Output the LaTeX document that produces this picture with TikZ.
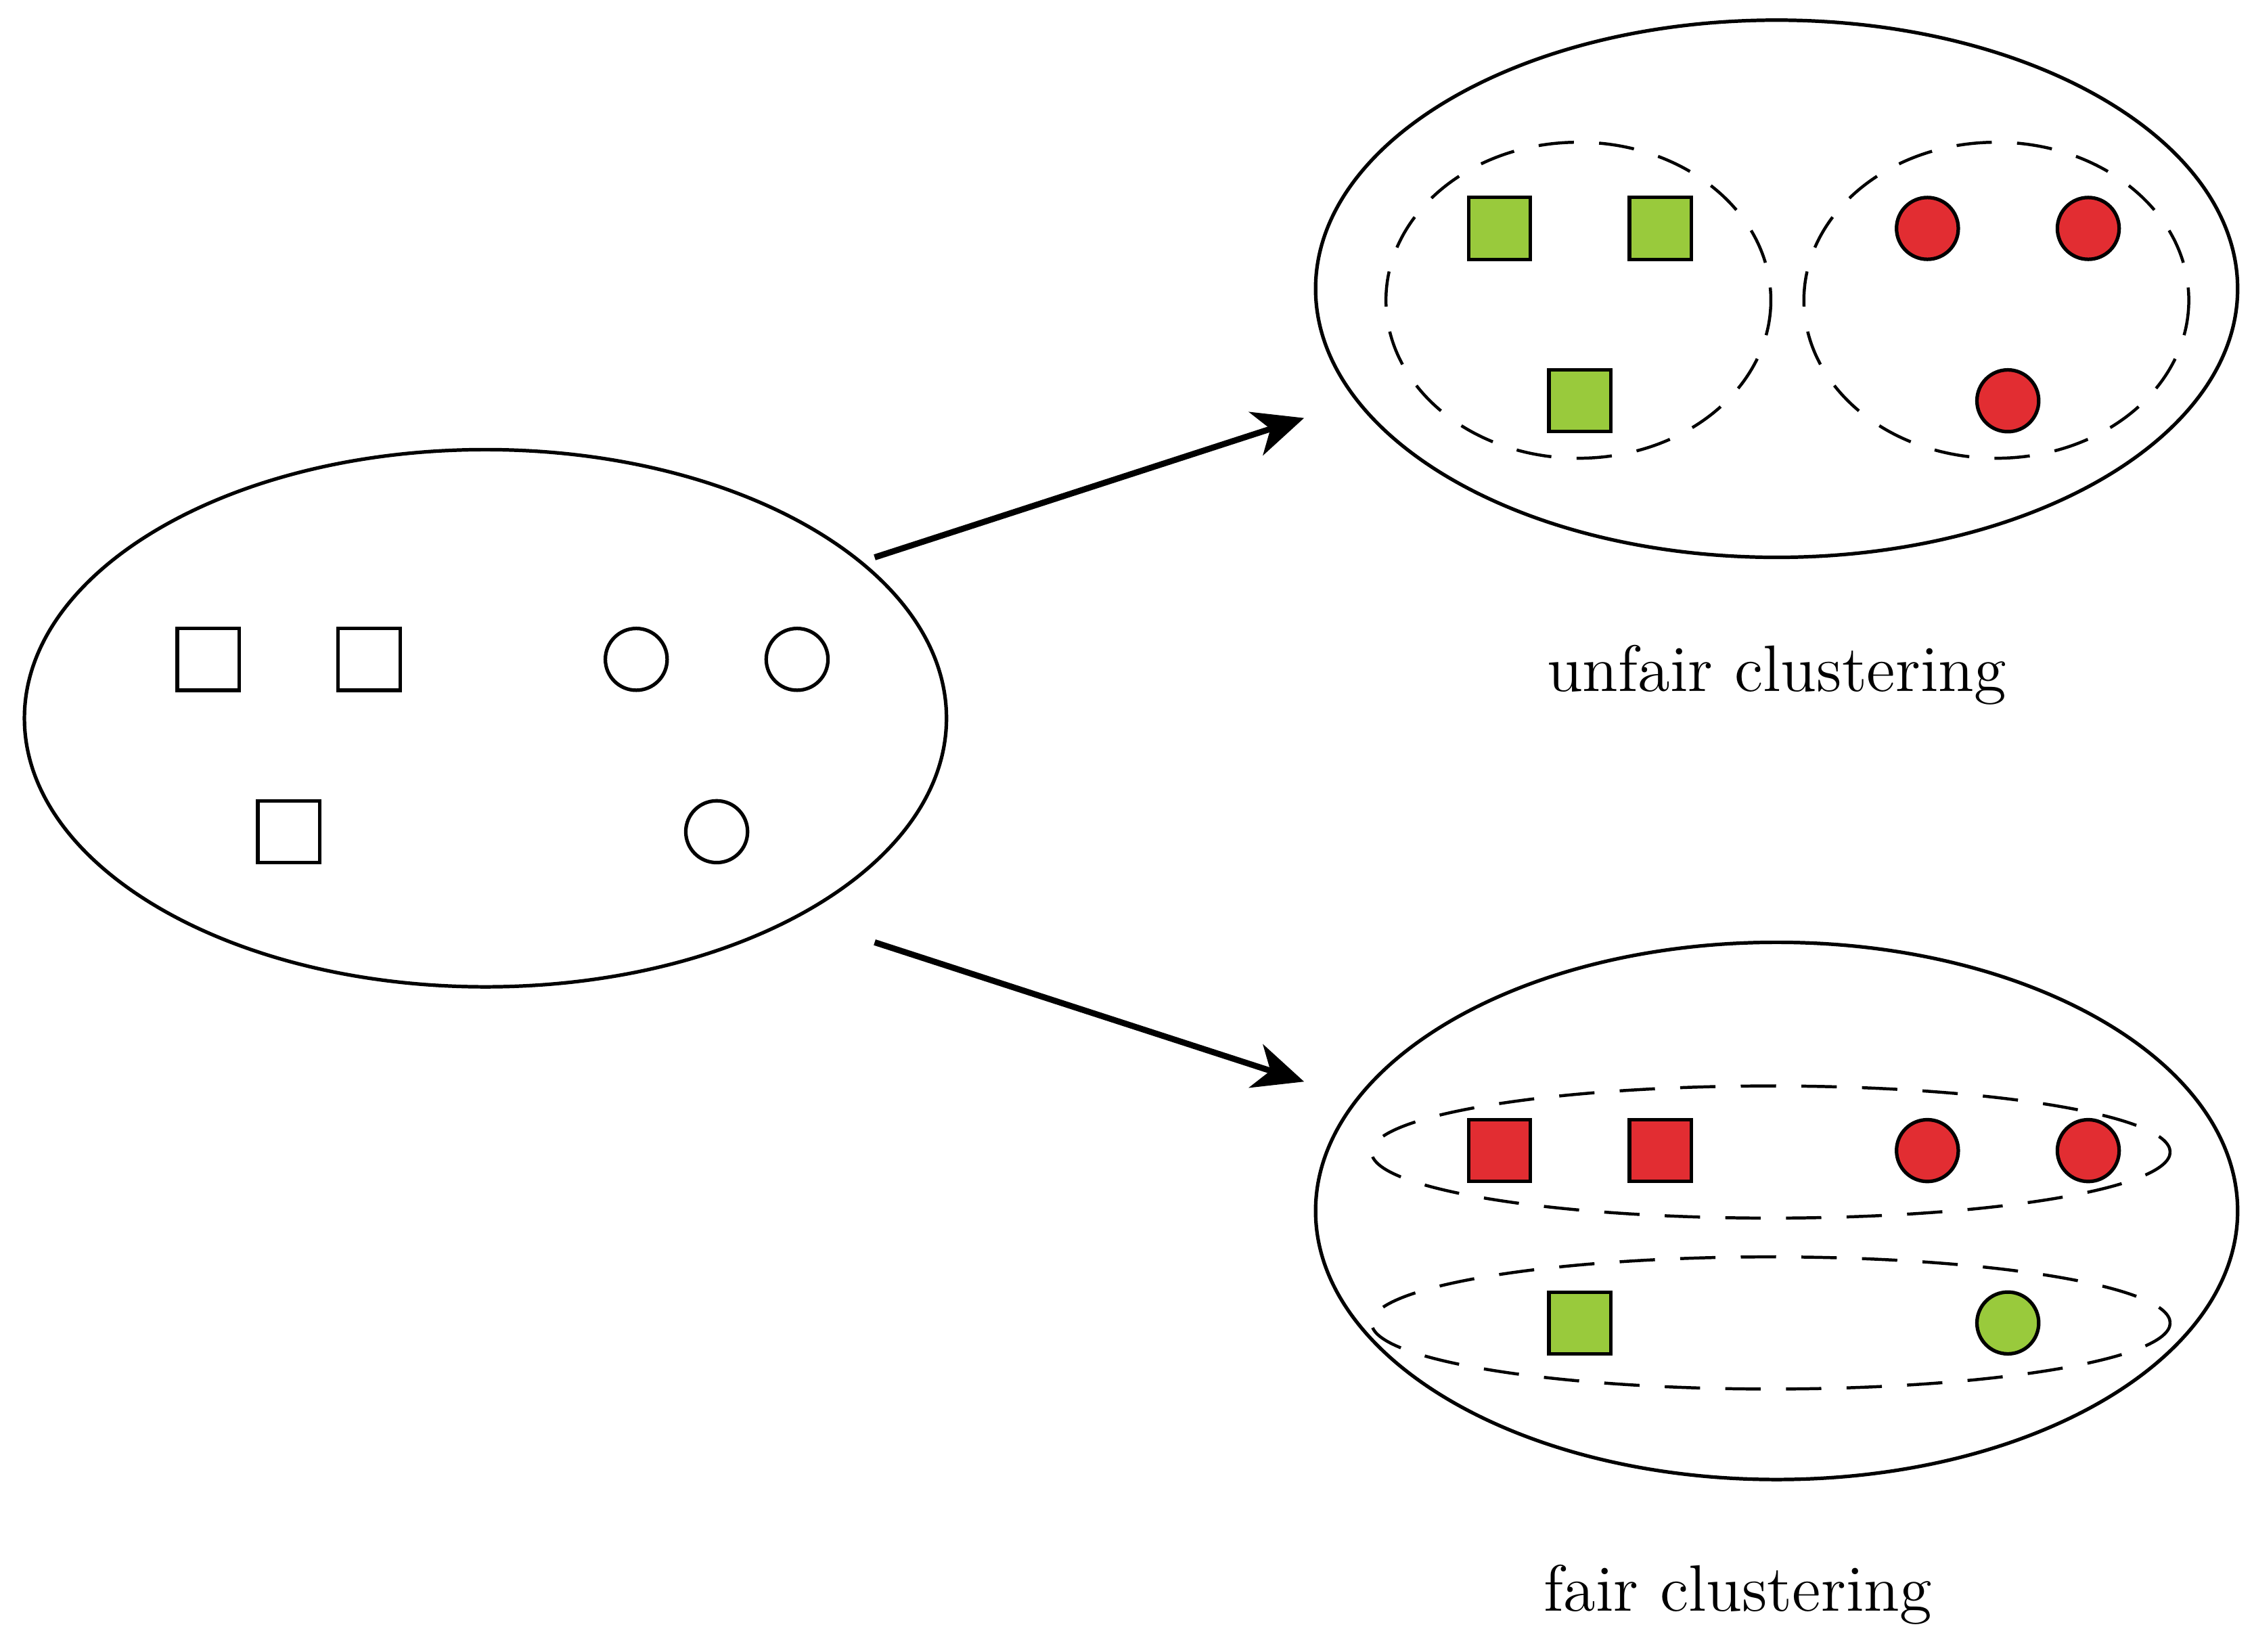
\documentclass[tikz,border=0pt]{standalone}
\usetikzlibrary{arrows.meta}
\definecolor{fairgreen}{RGB}{153,202,60}
\definecolor{fairred}{RGB}{226,45,50}
\tikzset{
  sq/.style={draw, rectangle, minimum size=0.43cm, inner sep=0pt, line width=0.7pt},
  dot/.style={draw, circle, minimum size=0.43cm, inner sep=0pt, line width=0.7pt},
  group/.style={draw, dashed, dash pattern=on 7pt off 5pt, line width=0.6pt},
  caption/.style={font=\fontsize{13}{15}\selectfont},
}
\begin{document}
\begin{tikzpicture}[x=0.01cm, y=-0.01cm]
  \useasboundingbox (0,0) rectangle (1568,1150);

  % input set
  \draw[line width=0.7pt] (338,500) ellipse [x radius=321, y radius=187];
  \foreach \x/\y in {145/459, 257/459, 201/579} {
    \node[sq] at (\x,\y) {};
  }
  \foreach \x/\y in {443/459, 555/459, 499/579} {
    \node[dot] at (\x,\y) {};
  }

  % unfair clustering
  \draw[line width=0.7pt] (1237,201) ellipse [x radius=321, y radius=187];
  \draw[group] (1099,209) ellipse [x radius=134, y radius=110];
  \draw[group] (1390,209) ellipse [x radius=134, y radius=110];
  \foreach \x/\y in {1044/159, 1156/159, 1100/279} {
    \node[sq, fill=fairgreen] at (\x,\y) {};
  }
  \foreach \x/\y in {1342/159, 1454/159, 1398/279} {
    \node[dot, fill=fairred] at (\x,\y) {};
  }
  \node[caption] (unfair) at (1237,470) {unfair clustering};

  % fair clustering
  \draw[line width=0.7pt] (1237,843) ellipse [x radius=321, y radius=187];
  \draw[group] (1233,802) ellipse [x radius=278, y radius=46];
  \draw[group] (1233,921) ellipse [x radius=278, y radius=46];
  \foreach \x/\y in {1044/801, 1156/801} {
    \node[sq, fill=fairred] at (\x,\y) {};
  }
  \foreach \x/\y in {1342/801, 1454/801} {
    \node[dot, fill=fairred] at (\x,\y) {};
  }
  \node[sq, fill=fairgreen] at (1100,921) {};
  \node[dot, fill=fairgreen] at (1398,921) {};
  \node[caption] (fair) at (1210,1110) {fair clustering};

  \coordinate (src1) at (609,388);
  \coordinate (dst1) at (908,291);
  \coordinate (src2) at (609,656);
  \coordinate (dst2) at (908,753);
  \draw[-{Stealth[length=10pt, width=9pt, inset=3pt]}, line width=1.2pt] (src1) -- (dst1);
  \draw[-{Stealth[length=10pt, width=9pt, inset=3pt]}, line width=1.2pt] (src2) -- (dst2);
\end{tikzpicture}
\end{document}
